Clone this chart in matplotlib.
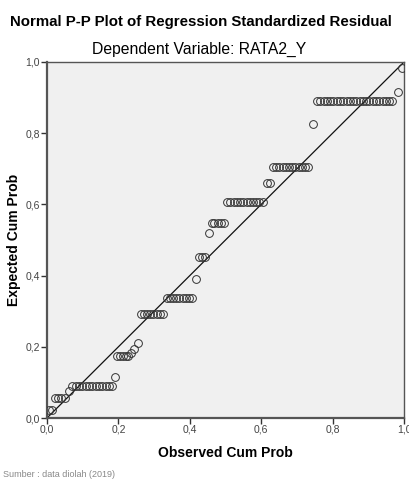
import matplotlib
matplotlib.use("Agg")
import matplotlib.pyplot as plt

plt.rcParams['font.family'] = ['Liberation Sans', 'DejaVu Sans']

# observed cum prob (x) and expected cum prob (y)
obs = [0.005, 0.014,
       0.022, 0.031, 0.040, 0.050,
       0.062,
       0.071, 0.080, 0.090, 0.099, 0.108, 0.118, 0.127, 0.136, 0.146, 0.155, 0.165, 0.174, 0.183,
       0.190,
       0.196, 0.204, 0.212, 0.220, 0.228,
       0.236, 0.245, 0.254,
       0.262, 0.271, 0.280, 0.289, 0.298, 0.307, 0.316, 0.325,
       0.335, 0.344, 0.353, 0.362, 0.371, 0.380, 0.389, 0.398, 0.407,
       0.417,
       0.425, 0.433, 0.442,
       0.454,
       0.461, 0.469, 0.478, 0.487, 0.496,
       0.505, 0.514, 0.523, 0.532, 0.541, 0.550, 0.559, 0.568, 0.577, 0.586, 0.595, 0.604,
       0.615, 0.624,
       0.633, 0.642, 0.651, 0.660, 0.669, 0.678, 0.687, 0.696, 0.705, 0.714, 0.723, 0.732,
       0.745,
       0.757, 0.766, 0.775, 0.784, 0.793, 0.802, 0.811, 0.821, 0.830, 0.839, 0.848, 0.857,
       0.866, 0.876, 0.885, 0.894, 0.903, 0.912, 0.921, 0.931, 0.940, 0.949, 0.958, 0.967,
       0.983,
       0.994]
exp = [0.022] * 2 + [0.056] * 4 + [0.076] + [0.090] * 13 + [0.115] + [0.174] * 5 + \
      [0.182, 0.194, 0.210] + [0.292] * 8 + [0.337] * 9 + [0.390] + [0.452] * 3 + \
      [0.520] + [0.548] * 5 + [0.607] * 12 + [0.660] * 2 + [0.705] * 12 + [0.826] + \
      [0.890] * 24 + [0.916] + [0.983]

ticks = [0.0, 0.2, 0.4, 0.6, 0.8, 1.0]
tick_labels = ['0,0', '0,2', '0,4', '0,6', '0,8', '1,0']

fig = plt.figure(figsize=(4.10, 4.79), dpi=100)
ax = fig.add_axes([0.1146, 0.1273, 0.8708, 0.7433])
ax.set_facecolor('#f0f0f0')

ax.plot([0, 1], [0, 1], color='#111111', lw=0.9, zorder=2)
ax.plot(obs, exp, 'o', ms=5.6, mfc='none', mec='#333333', mew=0.7, zorder=3)

ax.set_xlim(0, 1)
ax.set_ylim(0, 1)
ax.set_xticks(ticks)
ax.set_yticks(ticks)
ax.set_xticklabels(tick_labels)
ax.set_yticklabels(tick_labels)
ax.tick_params(direction='out', length=4, width=1, color='#333333',
               labelsize=7.5, labelcolor='#444444', pad=1)
for s in ax.spines.values():
    s.set_color('#555555')
    s.set_linewidth(1.0)
ax.spines['left'].set_linewidth(1.6)
ax.spines['bottom'].set_linewidth(1.6)

ax.set_xlabel('Observed Cum Prob', fontsize=10, fontweight='bold', labelpad=8)
ax.set_ylabel('Expected Cum Prob', fontsize=10, fontweight='bold', labelpad=3)

fig.text(0.49, 0.955, 'Normal P-P Plot of Regression Standardized Residual',
         ha='center', va='center', fontsize=10.8, fontweight='bold')
fig.text(0.485, 0.897, 'Dependent Variable: RATA2_Y',
         ha='center', va='center', fontsize=11.3)
fig.text(0.008, 0.005, 'Sumber : data diolah (2019)', ha='left', va='baseline',
         fontsize=6.5, color='#888888')

fig.savefig('out.png', dpi=100)
